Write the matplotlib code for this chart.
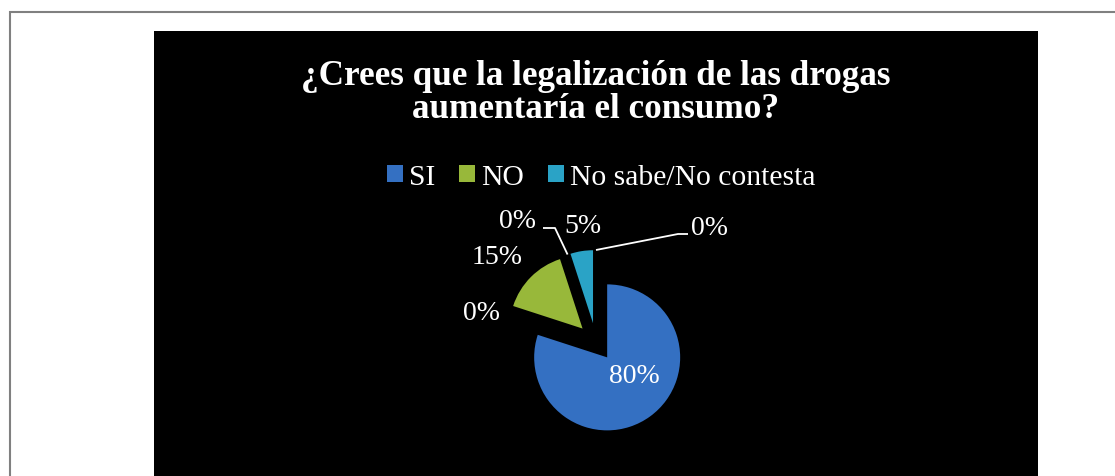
import matplotlib
matplotlib.use("Agg")
import matplotlib.pyplot as plt
from matplotlib.patches import Rectangle
import numpy as np

# Survey answers (clockwise from 12 o'clock); the empty slices carry the 0% labels
slice_values = [80, 0, 15, 0, 5, 0]
legend_labels = ["SI", "NO", "No sabe/No contesta"]
legend_slices = [0, 2, 4]
title_text = "¿Crees que la legalización de las drogas\naumentaría el consumo?"

slice_colors = ["#3470c2", "#3470c2", "#98b83a", "#98b83a", "#2aa3c6", "#2aa3c6"]

W, H = 1115, 477
fig = plt.figure(figsize=(W / 100, H / 100), dpi=100)
fig.patch.set_facecolor("white")
ax = fig.add_axes([0, 0, 1, 1])


def py(y):
    # pixel row measured from the top -> axes y (upwards)
    return H - y


serif = ["Liberation Serif", "DejaVu Serif"]

# exploded pie (radius and explode offset in pixels)
cx, cy, r, expl = 596, py(343), 73, 19
wedges, _ = ax.pie(slice_values, colors=slice_colors, startangle=90,
                   counterclock=False, explode=[expl] * len(slice_values),
                   center=(cx, cy), radius=r, frame=True,
                   wedgeprops=dict(linewidth=0, edgecolor="none"))
for w in wedges:
    w.set_zorder(3)
ax.set_xlim(0, W)
ax.set_ylim(0, H)
ax.set_aspect("equal")
ax.axis("off")

# page frame and black chart area
ax.add_patch(Rectangle((10, py(H + 10)), W + 20, H + 10 - 13,
                       facecolor="none", edgecolor="#808080", lw=1.5, zorder=0))
ax.add_patch(Rectangle((154, py(H + 10)), 1038 - 154, H + 10 - 32,
                       facecolor="black", edgecolor="none", zorder=1))

ax.text(596, py(93), title_text, ha="center", va="center", color="white",
        fontsize=25.3, fontweight="bold", family=serif, linespacing=1.03, zorder=5)

# mid-angle of each slice (degrees)
total = float(sum(slice_values))
angles = []
a = 90.0
for v in slice_values:
    span = 360.0 * v / total
    angles.append(a - span / 2)
    a -= span

# label anchor positions (pixel coordinates from the top-left)
label_pos = [(634, 377), (481, 314), (497, 258), (517, 222), (583, 227), (709, 229)]
for v, (lx, ly) in zip(slice_values, label_pos):
    ax.text(lx, py(ly), f"{v:.0f}%", ha="center", va="center", color="white",
            fontsize=20, family=serif, zorder=6)

# leader lines for the two top zero slices
for idx, elbow, end in [(3, (555, 229), (543, 229)), (5, (678, 235), (688, 235))]:
    th = np.deg2rad(angles[idx])
    sx = cx + (r + expl) * np.cos(th)
    sy = cy + (r + expl) * np.sin(th)
    ax.plot([sx, elbow[0], end[0]], [sy, py(elbow[1]), py(end[1])],
            color="white", lw=1.3, zorder=6, solid_capstyle="butt")

leg = ax.legend([wedges[i] for i in legend_slices], legend_labels, ncol=3,
                loc="center", bbox_to_anchor=(601 / W, 1 - 178 / H),
                frameon=False, handlelength=0.55, handleheight=0.55,
                handletextpad=0.2, columnspacing=0.8,
                prop={"family": serif, "size": 21.3})
for t in leg.get_texts():
    t.set_color("white")
leg.set_zorder(7)

fig.savefig("out.png", dpi=100, facecolor="white")
